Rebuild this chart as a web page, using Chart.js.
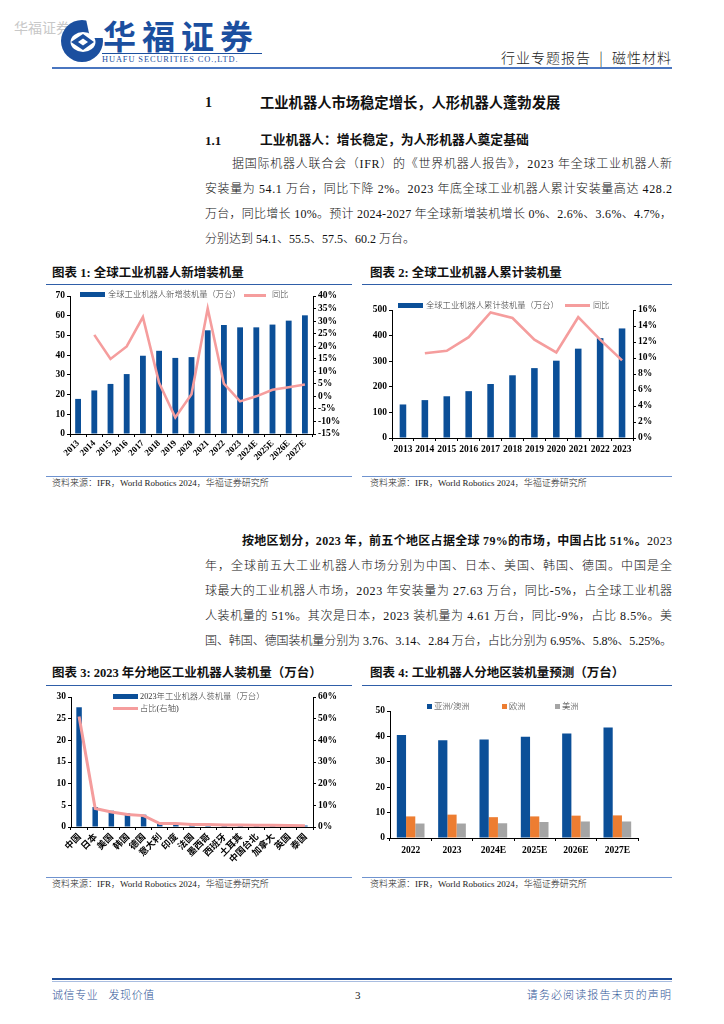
<!DOCTYPE html>
<html><head><meta charset="utf-8">
<script src="https://cdn.jsdelivr.net/npm/chart.js@4.4.1/dist/chart.umd.min.js"></script>
<style>
body{margin:0;width:724px;height:1024px;position:relative;background:#fff;overflow:hidden;font-family:'Liberation Serif','Noto Sans CJK SC',serif;color:#111;}
.a{position:absolute;white-space:nowrap;}
.jl{position:absolute;white-space:nowrap;font-size:12px;line-height:14px;font-weight:300;}
.jl b{font-weight:bold;}
.ttl{position:absolute;white-space:nowrap;font-size:12.5px;font-weight:bold;line-height:14px;}
.rule{position:absolute;height:0;}
.src{position:absolute;white-space:nowrap;font-size:9px;line-height:10px;color:#222;font-weight:300;}
canvas{position:absolute;}
.lg{position:absolute;white-space:nowrap;font-size:8.3px;line-height:10px;color:#333;font-weight:300;}
.sw{position:absolute;}
</style></head>
<body>
<!-- header -->
<div class="a" style="left:14px;top:17px;font-size:14px;color:#c8c8c8;">华福证券</div>
<svg class="a" style="left:60px;top:19px;" width="44" height="44" viewBox="0 0 44 44">
  <ellipse cx="22" cy="22" rx="21" ry="21" fill="#1b4f9f"/>
  <ellipse cx="23" cy="23" rx="12.5" ry="10" fill="#fff"/>
  <path d="M26 0 L44 0 L44 19 L30 19 Z" fill="#fff"/>
  <path d="M11 23 L23 15 L34 23 L23 31 Z" fill="#1b4f9f"/>
  <path d="M18 23 L23 19.5 L28 23 L23 26.5 Z" fill="#fff"/>
</svg>
<div class="a" style="left:103px;top:18px;font-size:33px;line-height:34px;font-weight:bold;color:#1b4f9f;font-family:'Noto Sans CJK SC',sans-serif;letter-spacing:6px;">华福证券</div>
<div class="a" style="left:102px;top:53px;width:160px;height:0;border-top:1px solid #1b4f9f;"></div>
<div class="a" style="left:102px;top:55px;font-size:8.4px;line-height:10px;color:#1b4f9f;font-family:'Liberation Serif',serif;letter-spacing:0.9px;">HUAFU SECURITIES CO.,LTD.</div>
<div class="a" style="right:52px;top:50px;font-size:14px;line-height:15px;color:#222;font-family:'Noto Sans CJK SC',sans-serif;font-weight:300;letter-spacing:1px;">行业专题报告&nbsp;&nbsp;|&nbsp;&nbsp;磁性材料</div>
<div class="rule" style="left:52px;top:67px;width:620px;border-top:2px solid #4a76c0;"></div>

<!-- headings -->
<div class="a" style="left:205px;top:95px;font-size:14px;line-height:16px;font-weight:bold;">1</div>
<div class="a" style="left:260px;top:95px;font-size:14.3px;line-height:16px;font-weight:bold;">工业机器人市场稳定增长，人形机器人蓬勃发展</div>
<div class="a" style="left:205px;top:133px;font-size:13px;line-height:15px;font-weight:bold;">1.1</div>
<div class="a" style="left:260px;top:133px;font-size:12.8px;line-height:15px;font-weight:bold;">工业机器人：增长稳定，为人形机器人奠定基础</div>

<div class="jl" data-w="440" style="left:232px;top:157px;">据国际机器人联合会（IFR）的《世界机器人报告》，2023 年全球工业机器人新</div>
<div class="jl" data-w="467" style="left:205px;top:182px;">安装量为 54.1 万台，同比下降 2%。2023 年底全球工业机器人累计安装量高达 428.2</div>
<div class="jl" data-w="467" style="left:205px;top:207px;">万台，同比增长 10%。预计 2024-2027 年全球新增装机增长 0%、2.6%、3.6%、4.7%，</div>
<div class="jl" style="left:205px;top:232px;">分别达到 54.1、55.5、57.5、60.2 万台。</div>

<!-- chart titles row 1 -->
<div class="ttl" style="left:52px;top:266px;">图表 1:&nbsp;全球工业机器人新增装机量</div>
<div class="ttl" style="left:370px;top:266px;">图表 2:&nbsp;全球工业机器人累计装机量</div>
<div class="rule" style="left:46px;top:284px;width:306px;border-top:1.5px solid #2f5ea8;"></div>
<div class="rule" style="left:362px;top:284px;width:310px;border-top:1.5px solid #2f5ea8;"></div>

<canvas id="c1" width="306" height="182" style="left:46px;top:288px;"></canvas>
<canvas id="c2" width="310" height="175" style="left:362px;top:290px;"></canvas>

<!-- legends chart1 -->
<div class="sw" style="left:80px;top:292px;width:25px;height:5px;background:#0b4f98;"></div>
<div class="lg" style="left:108px;top:290px;">全球工业机器人新增装机量（万台）</div>
<div class="sw" style="left:244px;top:293.5px;width:22px;height:3px;background:#f59d9d;"></div>
<div class="lg" style="left:272px;top:290px;">同比</div>
<!-- legends chart2 -->
<div class="sw" style="left:398px;top:303px;width:25px;height:5px;background:#0b4f98;"></div>
<div class="lg" style="left:426px;top:301px;">全球工业机器人累计装机量（万台）</div>
<div class="sw" style="left:565px;top:304px;width:25px;height:3px;background:#f59d9d;"></div>
<div class="lg" style="left:593px;top:301px;">同比</div>

<div class="rule" style="left:46px;top:476px;width:306px;border-top:1.5px solid #6f93cf;"></div>
<div class="rule" style="left:362px;top:476px;width:310px;border-top:1.5px solid #6f93cf;"></div>
<div class="src" style="left:52px;top:478px;">资料来源：IFR，World Robotics 2024，华福证券研究所</div>
<div class="src" style="left:370px;top:478px;">资料来源：IFR，World Robotics 2024，华福证券研究所</div>

<!-- paragraph 2 -->
<div class="jl" data-w="430" style="left:242px;top:534px;"><b>按地区划分，2023 年，前五个地区占据全球 79%的市场，中国占比 51%。</b>2023</div>
<div class="jl" data-w="467" style="left:205px;top:559px;">年，全球前五大工业机器人市场分别为中国、日本、美国、韩国、德国。中国是全</div>
<div class="jl" data-w="467" style="left:205px;top:584px;">球最大的工业机器人市场，2023 年安装量为 27.63 万台，同比-5%，占全球工业机器</div>
<div class="jl" data-w="467" style="left:205px;top:609px;">人装机量的 51%。其次是日本，2023 装机量为 4.61 万台，同比-9%，占比 8.5%。美</div>
<div class="jl" data-w="467" style="left:205px;top:634px;">国、韩国、德国装机量分别为 3.76、3.14、2.84 万台，占比分别为 6.95%、5.8%、5.25%。</div>

<!-- chart titles row 2 -->
<div class="ttl" style="left:52px;top:666px;">图表 3:&nbsp;2023 年分地区工业机器人装机量（万台）</div>
<div class="ttl" style="left:370px;top:666px;">图表 4:&nbsp;工业机器人分地区装机量预测（万台）</div>
<div class="rule" style="left:46px;top:685px;width:306px;border-top:1.5px solid #2f5ea8;"></div>
<div class="rule" style="left:362px;top:685px;width:310px;border-top:1.5px solid #2f5ea8;"></div>

<canvas id="c3" width="306" height="184" style="left:46px;top:688px;"></canvas>
<canvas id="c4" width="310" height="175" style="left:362px;top:695px;"></canvas>

<!-- legends chart3 -->
<div class="sw" style="left:113px;top:694px;width:25px;height:5px;background:#0b4f98;"></div>
<div class="lg" style="left:140px;top:692px;">2023年工业机器人装机量（万台）</div>
<div class="sw" style="left:113px;top:707px;width:25px;height:3px;background:#f59d9d;"></div>
<div class="lg" style="left:140px;top:704px;">占比(右轴)</div>
<!-- legends chart4 -->
<div class="sw" style="left:427px;top:704px;width:5px;height:5px;background:#0b4f98;"></div>
<div class="lg" style="left:434px;top:702px;">亚洲/澳洲</div>
<div class="sw" style="left:502px;top:704px;width:5px;height:5px;background:#ed7d31;"></div>
<div class="lg" style="left:509px;top:702px;">欧洲</div>
<div class="sw" style="left:555px;top:704px;width:5px;height:5px;background:#a5a5a5;"></div>
<div class="lg" style="left:562px;top:702px;">美洲</div>

<div class="rule" style="left:46px;top:877px;width:306px;border-top:1.5px solid #6f93cf;"></div>
<div class="rule" style="left:362px;top:877px;width:310px;border-top:1.5px solid #6f93cf;"></div>
<div class="src" style="left:52px;top:879px;">资料来源：IFR，World Robotics 2024，华福证券研究所</div>
<div class="src" style="left:370px;top:879px;">资料来源：IFR，World Robotics 2024，华福证券研究所</div>

<!-- footer -->
<div class="rule" style="left:52px;top:978px;width:620px;border-top:2px solid #1f4e99;"></div>
<div class="rule" style="left:52px;top:981px;width:620px;border-top:1px solid #a9bde0;"></div>
<div class="a" style="left:52px;top:989px;font-size:11px;line-height:13px;color:#2f5597;letter-spacing:0.6px;font-weight:300;">诚信专业&nbsp;&nbsp;&nbsp;发现价值</div>
<div class="a" style="left:355px;top:989px;font-size:11px;line-height:13px;color:#222;">3</div>
<div class="a" style="right:52px;top:989px;font-size:11px;line-height:13px;color:#2f5597;letter-spacing:1.1px;font-weight:300;">请务必阅读报告末页的声明</div>

<script>
// ---------- data ----------
const years1 = ['2013','2014','2015','2016','2017','2018','2019','2020','2021','2022','2023','2024E','2025E','2026E','2027E'];
const newInstall = [17.8, 22.1, 25.4, 30.4, 39.7, 42.2, 38.6, 39.0, 52.6, 55.3, 54.1, 54.1, 55.5, 57.5, 60.2];
const newYoY = [null, 24.5, 14.9, 19.9, 31.6, 5.4, -8.4, 0.8, 35.0, 5.1, -2.0, 0.0, 2.6, 3.6, 4.7];

const years2 = ['2013','2014','2015','2016','2017','2018','2019','2020','2021','2022','2023'];
const cumInstall = [131, 148, 163, 183, 211, 245, 273, 302, 349, 390, 428];
const cumYoY = [null, 10.6, 10.9, 12.6, 15.7, 15.0, 12.3, 10.7, 15.1, 12.3, 9.7];

const regions = ['中国','日本','美国','韩国','德国','意大利','印度','法国','墨西哥','西班牙','土耳其','中国台北','加拿大','英国','泰国'];
const regionInstall = [27.63, 4.61, 3.76, 3.14, 2.84, 0.88, 0.85, 0.64, 0.58, 0.51, 0.46, 0.44, 0.43, 0.38, 0.34];
const regionShare = [51.0, 8.5, 6.95, 5.8, 5.25, 1.6, 1.6, 1.2, 1.1, 0.9, 0.9, 0.8, 0.8, 0.7, 0.6];

const years4 = ['2022','2023','2024E','2025E','2026E','2027E'];
const asia = [40.6, 38.5, 38.8, 39.9, 41.1, 43.5];
const europe = [8.5, 9.2, 8.2, 8.5, 8.8, 8.9];
const americas = [5.7, 5.7, 5.8, 6.3, 6.5, 6.5];

// ---------- justify lines ----------
document.querySelectorAll('.jl[data-w]').forEach(el=>{
  const target = +el.dataset.w;
  const n = el.textContent.length;
  const w = el.getBoundingClientRect().width;
  const ls = (target - w) / (n - 1);
  el.style.letterSpacing = ls + 'px';
});

// ---------- charts ----------
const BLUE = '#0b4f98', PINK = '#f59d9d';
const tickFont = {family:"'Liberation Serif','Times New Roman',serif", size:9.5, weight:'bold'};
const cjkFont = {family:"'Noto Sans CJK SC',sans-serif", size:9.2, weight:'bold'};
Chart.defaults.animation = false;
Chart.defaults.color = '#000';

function ax(extra){
  const base = {
    grid:{display:true, drawOnChartArea:false, drawTicks:true, tickLength:3, color:'#000', lineWidth:1},
    border:{display:true, color:'#000', width:1}
  };
  return Object.assign(base, extra);
}
function tk(extra){ return Object.assign({color:'#000', font:tickFont, padding:2, autoSkip:false}, extra); }
const plugins = {legend:{display:false}, tooltip:{enabled:false}};
const pct = v => v + '%';

// Chart 1
new Chart(document.getElementById('c1'), {
  type:'bar',
  data:{labels:years1, datasets:[
    {type:'line', data:newYoY, yAxisID:'y1', borderColor:PINK, borderWidth:2.6, pointRadius:0, tension:0, order:0},
    {type:'bar', data:newInstall, yAxisID:'y', backgroundColor:BLUE, barPercentage:0.36, categoryPercentage:1, order:1}
  ]},
  options:{responsive:false, plugins, layout:{padding:{top:8,left:0,right:0,bottom:0}},
    scales:{
      x: ax({afterFit:s=>{s.height=36;}, ticks:tk({font:{...tickFont,size:9}, padding:1, minRotation:45, maxRotation:45})}),
      y: ax({position:'left', min:0, max:70, afterFit:s=>{s.width=24;}, ticks:tk({stepSize:10})}),
      y1: ax({position:'right', min:-15, max:40, afterFit:s=>{s.width=39;}, ticks:tk({stepSize:5, callback:pct})})
    }}
});

// Chart 2
new Chart(document.getElementById('c2'), {
  type:'bar',
  data:{labels:years2, datasets:[
    {type:'line', data:cumYoY, yAxisID:'y1', borderColor:PINK, borderWidth:2.6, pointRadius:0, tension:0, order:0},
    {type:'bar', data:cumInstall, yAxisID:'y', backgroundColor:BLUE, barPercentage:0.3, categoryPercentage:1, order:1}
  ]},
  options:{responsive:false, plugins, layout:{padding:{top:20,left:0,right:0,bottom:0}},
    scales:{
      x: ax({afterFit:s=>{s.height=27;}, ticks:tk({padding:3, maxRotation:0})}),
      y: ax({position:'left', min:0, max:500, afterFit:s=>{s.width=30;}, ticks:tk({stepSize:100})}),
      y1: ax({position:'right', min:0, max:16, afterFit:s=>{s.width=39;}, ticks:tk({stepSize:2, callback:pct})})
    }}
});

// Chart 3
new Chart(document.getElementById('c3'), {
  type:'bar',
  data:{labels:regions, datasets:[
    {type:'line', data:regionShare, yAxisID:'y1', borderColor:PINK, borderWidth:3, pointRadius:0, tension:0, order:0},
    {type:'bar', data:regionInstall, yAxisID:'y', backgroundColor:BLUE, barPercentage:0.34, categoryPercentage:1, order:1}
  ]},
  options:{responsive:false, plugins, layout:{padding:{top:9,left:0,right:0,bottom:0}},
    scales:{
      x: ax({afterFit:s=>{s.height=45;}, ticks:tk({font:cjkFont, padding:1, minRotation:45, maxRotation:45})}),
      y: ax({position:'left', min:0, max:30, afterFit:s=>{s.width=25;}, ticks:tk({stepSize:5})}),
      y1: ax({position:'right', min:0, max:60, afterFit:s=>{s.width=39;}, ticks:tk({stepSize:10, callback:pct})})
    }}
});

// Chart 4
new Chart(document.getElementById('c4'), {
  type:'bar',
  data:{labels:years4, datasets:[
    {label:'亚洲/澳洲', data:asia, backgroundColor:'#0b4f98', barPercentage:1, categoryPercentage:0.67},
    {label:'欧洲', data:europe, backgroundColor:'#ed7d31', barPercentage:1, categoryPercentage:0.67},
    {label:'美洲', data:americas, backgroundColor:'#a5a5a5', barPercentage:1, categoryPercentage:0.67}
  ]},
  options:{responsive:false, plugins, layout:{padding:{top:16,left:0,right:34,bottom:0}},
    scales:{
      x: ax({afterFit:s=>{s.height=32;}, ticks:tk({padding:4, maxRotation:0})}),
      y: ax({position:'left', min:0, max:50, afterFit:s=>{s.width=28;}, ticks:tk({stepSize:10})})
    }}
});
</script>
</body></html>
